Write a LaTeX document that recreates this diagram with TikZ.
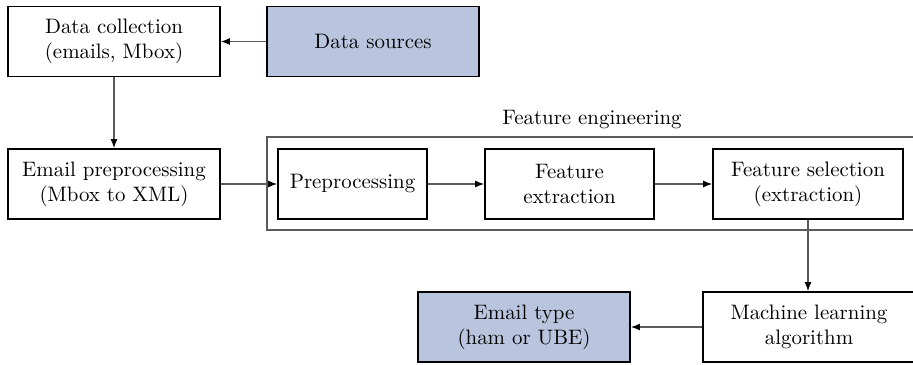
\documentclass[tikz,border=0pt]{standalone}
\usetikzlibrary{arrows.meta}
\definecolor{boxblue}{RGB}{185,196,222}
\definecolor{linegray}{RGB}{90,90,90}
\begin{document}
\begin{tikzpicture}[x=0.5pt,y=-0.5pt,
  txt/.style={font=\fontsize{10.45}{12.4}\selectfont},
  box/.style={txt, draw=black, line width=0.9pt, minimum height=35pt, align=center, inner sep=0pt},
  conn/.style={draw=linegray, line width=0.6pt, -{Latex[length=4.5pt,width=3.5pt,black]}},
  group/.style={draw=linegray, line width=0.7pt}]
\useasboundingbox (0,0) rectangle (913,364);
\clip (0,0) rectangle (913,364);
% group frame
\draw[group] (267,137) rectangle (960,230);
\node[txt] (fe) at (592,120) {Feature engineering};
% nodes
\node[box, minimum width=106pt] (dc) at (114,41.5) {Data collection\\(emails, Mbox)};
\node[box, minimum width=106pt, fill=boxblue] (ds) at (373,41.5) {Data sources};
\node[box, minimum width=106pt] (ep) at (114,184) {Email preprocessing\\(Mbox to XML)};
\node[box, minimum width=74.5pt] (pp) at (352.5,184) {Preprocessing};
\node[box, minimum width=84.5pt] (fx) at (569.5,184) {Feature\\extraction};
\node[box, minimum width=95pt] (fs) at (808,184) {Feature selection\\(extraction)};
\node[box, minimum width=106pt] (ml) at (809,327) {Machine learning\\algorithm};
\node[box, minimum width=106pt, fill=boxblue] (et) at (524,327) {Email type\\(ham or UBE)};
% connectors
\draw[conn] (ds) -- (dc);
\draw[conn] (dc) -- (ep);
\draw[conn] (ep) -- (pp);
\draw[conn] (pp) -- (fx);
\draw[conn] (fx) -- (fs);
\draw[conn] (fs.south) -- (fs.south |- ml.north);
\draw[conn] (ml) -- (et);
\end{tikzpicture}
\end{document}
